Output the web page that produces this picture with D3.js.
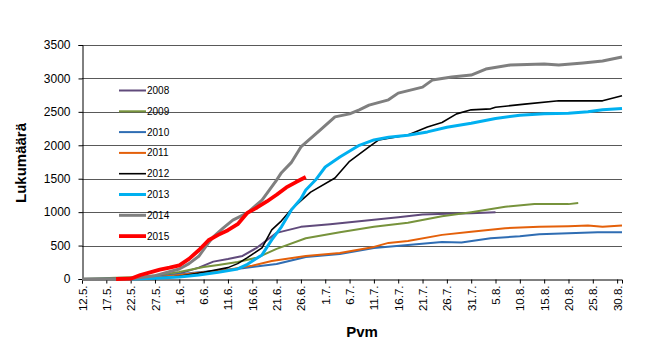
<!DOCTYPE html>
<html>
<head>
<meta charset="utf-8">
<script src="https://cdn.jsdelivr.net/npm/d3@7"></script>
<style>
    body { margin: 0; background: #fff; }
    text { font-family: Arial, "Liberation Sans", sans-serif; }
</style>
</head>
<body>
<div id="chart"></div>
<script>

// Day index counted from 12.5. (0) ; value = cumulative count
var years = ["2008", "2009", "2010", "2011", "2012", "2013", "2014", "2015"];

var data2008 = [[0,0],[10,5],[15,30],[20,80],[24,170],[27,260],[30,300],[33,345],[36,470],[40,690],[45,780],[51,820],[58,870],[65,925],[70,965],[75,975],[80,985],[85,1000]];
var data2009 = [[0,0],[7,20],[12,30],[16,60],[20,105],[25,180],[28,210],[32,255],[36,320],[40,450],[46,610],[53,700],[60,780],[67,840],[74,940],[80,1000],[87,1080],[93,1120],[100,1120],[102,1135]];
var data2010 = [[0,0],[12,10],[15,30],[20,70],[24,100],[30,140],[33,160],[40,225],[46,330],[53,375],[60,465],[67,510],[74,555],[78,545],[84,610],[90,640],[94,670],[100,685],[106,700],[111,700]];
var data2011 = [[0,0],[5,0],[12,10],[16,30],[20,60],[25,100],[30,140],[35,200],[39,270],[46,345],[53,390],[60,480],[63,540],[67,570],[74,660],[80,705],[87,760],[94,780],[100,790],[104,800],[107,780],[111,800]];
var data2012 = [[10,0],[15,10],[20,40],[25,100],[30,170],[32,230],[34,320],[37,465],[39,735],[41,870],[43,1040],[47,1300],[52,1510],[55,1760],[59,1975],[61,2080],[67,2155],[71,2275],[74,2340],[77,2470],[80,2530],[84,2545],[85,2570],[91,2615],[98,2665],[107,2665],[111,2740]];
var data2013 = [[10,0],[15,10],[20,30],[24,60],[28,100],[32,150],[34,220],[37,360],[39,585],[41,780],[43,1030],[45,1200],[46,1330],[48,1480],[50,1675],[53,1825],[57,2000],[60,2080],[63,2120],[67,2150],[71,2200],[75,2270],[80,2330],[85,2400],[90,2450],[95,2470],[100,2480],[104,2500],[107,2530],[111,2550]];
var data2014 = [[0,0],[10,5],[15,50],[20,150],[22,230],[24,340],[26,540],[27,630],[29,760],[31,880],[34,990],[37,1180],[40,1480],[41,1590],[43,1740],[45,1975],[49,2230],[52,2425],[55,2470],[57,2530],[59,2600],[63,2680],[65,2780],[70,2870],[72,2975],[76,3020],[80,3050],[83,3140],[88,3200],[95,3215],[98,3200],[103,3230],[107,3260],[111,3320]];
var data2015 = [[7,0],[10,5],[12,60],[14,100],[16,140],[18,170],[20,205],[22,300],[24,430],[26,580],[28,660],[30,730],[32,820],[34,990],[36,1070],[38,1160],[40,1260],[42,1370],[44,1450],[46,1525]];

var xTickLabels = ["12.5.","17.5.","22.5.","27.5.","1.6.","6.6.","11.6.","16.6.","21.6.","26.6.","1.7.","6.7.","11.7.","16.7.","21.7.","26.7.","31.7.","5.8.","10.8.","15.8.","20.8.","25.8.","30.8."];
var yTicks = [0, 500, 1000, 1500, 2000, 2500, 3000, 3500];

var series = [
    { name: "2008", values: data2008, color: "#604A7B", width: 2 },
    { name: "2009", values: data2009, color: "#77933C", width: 2 },
    { name: "2010", values: data2010, color: "#2F6DB3", width: 2 },
    { name: "2011", values: data2011, color: "#E4600A", width: 2 },
    { name: "2012", values: data2012, color: "#000000", width: 1.6 },
    { name: "2013", values: data2013, color: "#00B0F0", width: 3 },
    { name: "2014", values: data2014, color: "#7F7F7F", width: 3 },
    { name: "2015", values: data2015, color: "#FF0000", width: 3.8 }
];

var margin = { top: 45, right: 25, bottom: 73, left: 82 };
var width = 647 - margin.left - margin.right,
    height = 352 - margin.top - margin.bottom;

var svg = d3.select("#chart").append("svg")
    .attr("width", 647)
    .attr("height", 352);

var g = svg.append("g")
    .attr("transform", "translate(" + margin.left + "," + margin.top + ")");

var x = d3.scaleLinear().domain([0, 111]).range([0, width]);
var y = d3.scaleLinear().domain([0, 3500]).range([height, 0]);

// gridlines
g.selectAll(".grid")
    .data(yTicks.filter(function (d) { return d > 0; }))
    .enter().append("line")
    .attr("class", "grid")
    .attr("x1", 0)
    .attr("x2", width)
    .attr("y1", function (d) { return Math.round(y(d)) + 0.5; })
    .attr("y2", function (d) { return Math.round(y(d)) + 0.5; })
    .attr("stroke", "#595959")
    .attr("stroke-width", 1);

// y axis
var yAxis = g.append("g")
    .attr("transform", "translate(0.5,0)")
    .call(d3.axisLeft(y).tickValues(yTicks).tickSize(4).tickPadding(8).tickFormat(d3.format("d")));
yAxis.selectAll("text").style("font-size", "12px").attr("fill", "#000");

// x axis
var xAxis = g.append("g")
    .attr("transform", "translate(0," + (Math.round(height) + 0.5) + ")")
    .call(d3.axisBottom(x)
        .tickValues(d3.range(0, 111, 5))
        .tickSize(4)
        .tickFormat(function (d, i) { return xTickLabels[i]; }));
xAxis.selectAll("text")
    .style("font-size", "11.5px")
    .attr("fill", "#000")
    .attr("text-anchor", "end")
    .attr("transform", "rotate(-90)")
    .attr("x", -6)
    .attr("y", 0)
    .attr("dy", "0.35em");

svg.selectAll(".domain, .tick line").attr("stroke", "#000");

// lines
var line = d3.line()
    .x(function (d) { return x(d[0]); })
    .y(function (d) { return y(d[1]); });

g.selectAll(".series")
    .data(series)
    .enter().append("path")
    .attr("class", "series")
    .attr("d", function (d) { return line(d.values); })
    .attr("fill", "none")
    .attr("stroke", function (d) { return d.color; })
    .attr("stroke-width", function (d) { return d.width; })
    .attr("stroke-linejoin", "round");

// legend
var legend = svg.selectAll(".legend")
    .data(series)
    .enter().append("g")
    .attr("class", "legend")
    .attr("transform", function (d, i) { return "translate(119," + (90.5 + i * 20.8) + ")"; });

legend.append("line")
    .attr("x1", 0).attr("x2", 27)
    .attr("stroke", function (d) { return d.color; })
    .attr("stroke-width", function (d) { return d.width; });

legend.append("text")
    .attr("x", 28)
    .attr("dy", "0.35em")
    .style("font-size", "10px")
    .text(function (d) { return d.name; });

// axis titles
svg.append("text")
    .attr("transform", "translate(26,163) rotate(-90)")
    .attr("text-anchor", "middle")
    .style("font-size", "15px")
    .style("font-weight", "bold")
    .text("Lukumäärä");

svg.append("text")
    .attr("x", 362)
    .attr("y", 337)
    .attr("text-anchor", "middle")
    .style("font-size", "15px")
    .style("font-weight", "bold")
    .text("Pvm");

</script>
</body>
</html>
